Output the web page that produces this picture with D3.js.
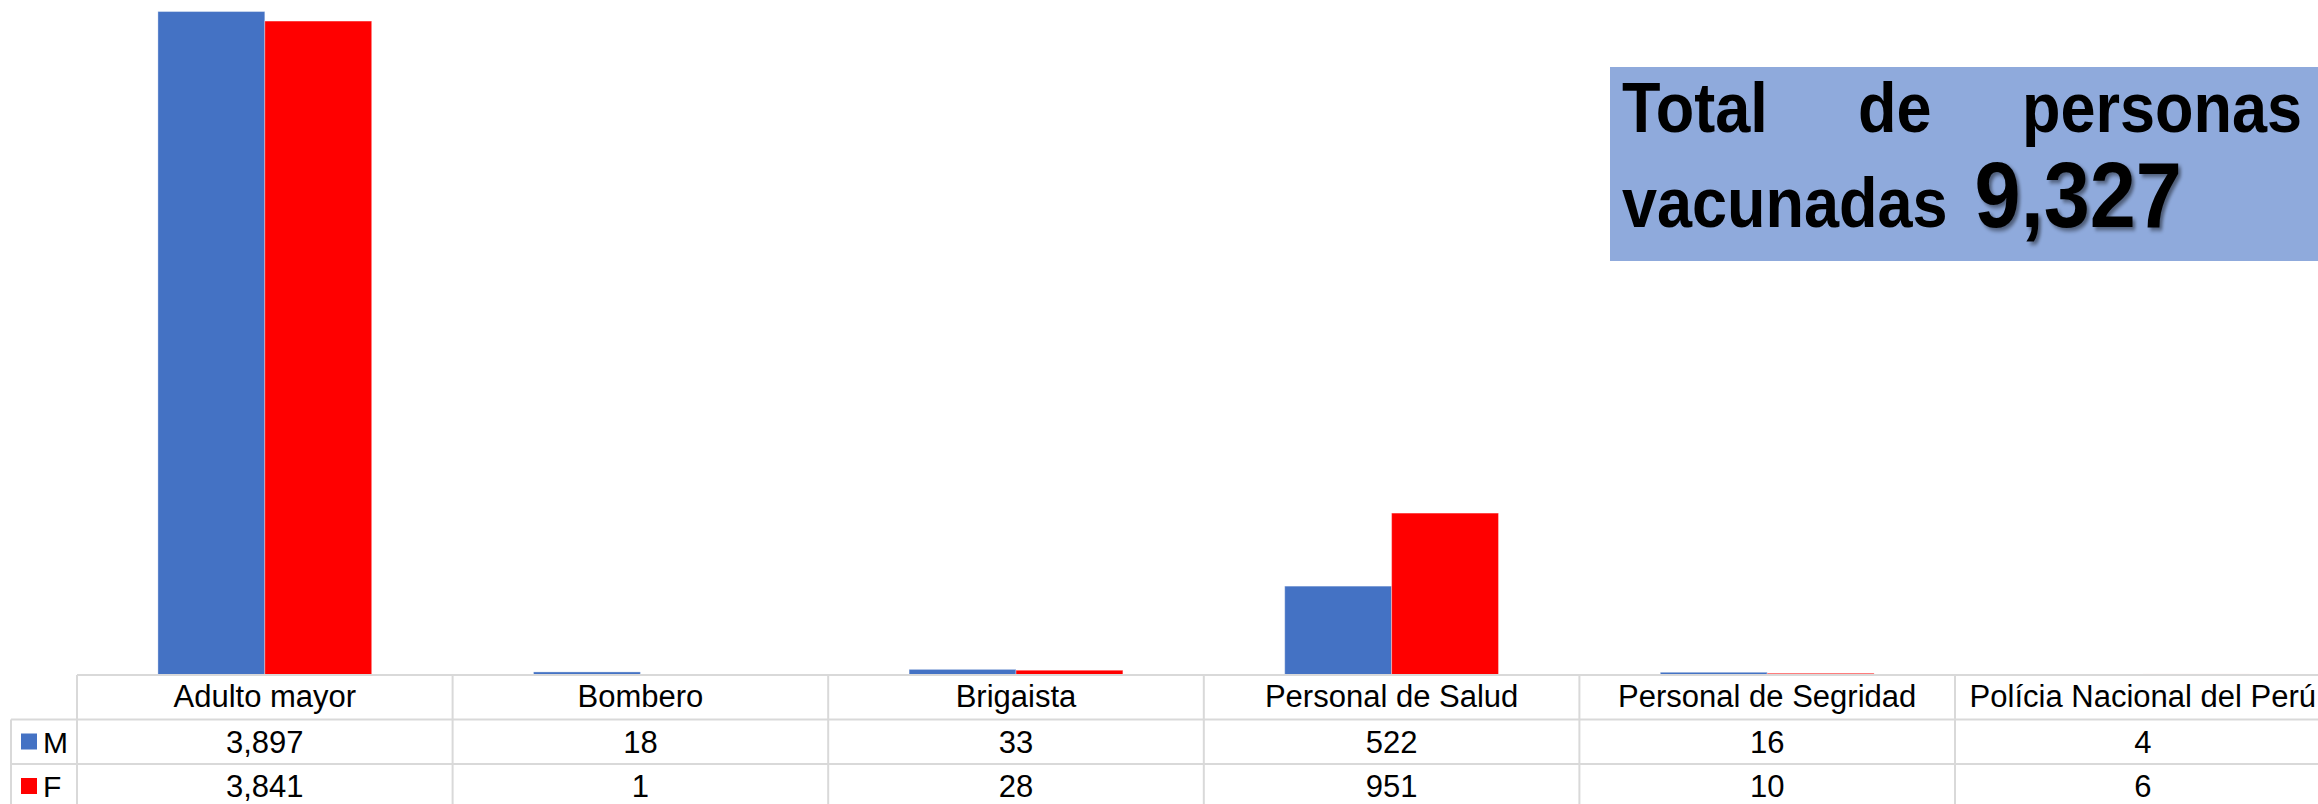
<!DOCTYPE html>
<html>
<head>
<meta charset="utf-8">
<script src="https://cdn.jsdelivr.net/npm/d3@7"></script>
<style>
  body { margin: 0; background: #fff; }
  svg { display: block; font-family: "Liberation Sans", Arial, sans-serif; }
</style>
</head>
<body>
<div id="wrapper"></div>
<script>
// categories and values per sex
const categories = ["Adulto mayor", "Bombero", "Brigaista", "Personal de Salud", "Personal de Segridad", "Polícia Nacional del Perú"];
const seriesNames = ["M", "F"];
const valuesM = [3897, 18, 33, 522, 16, 4];
const valuesF = [3841, 1, 28, 951, 10, 6];
const titleWords = ["Total", "de", "personas"];
const titleLine2 = "vacunadas";

const colors = { M: "#4472C4", F: "#FF0000" };

function drawChart() {
    const dimensions = {
        width: 2318,
        height: 804,
        tableLeft: 77,
        colWidth: 375.6,
        baseline: 675,
        rowH: 44.5,
    };

    const wrapper = d3.select("#wrapper")
        .append("svg")
        .attr("width", dimensions.width)
        .attr("height", dimensions.height);

    const defs = wrapper.append("defs");
    defs.append("filter")
        .attr("id", "shadow")
        .attr("x", "-10%").attr("y", "-10%")
        .attr("width", "130%").attr("height", "130%")
        .append("feDropShadow")
        .attr("dx", 3).attr("dy", 3)
        .attr("stdDeviation", 2)
        .attr("flood-color", "#000")
        .attr("flood-opacity", 0.45);

    // scales
    const xScale = d3.scaleBand()
        .domain(categories)
        .range([dimensions.tableLeft, dimensions.tableLeft + categories.length * dimensions.colWidth])
        .paddingInner(0)
        .paddingOuter(0);

    const xInner = d3.scaleBand()
        .domain(seriesNames)
        .range([0, xScale.bandwidth()])
        .paddingInner(0)
        .paddingOuter(0.757);

    const yScale = d3.scaleLinear()
        .domain([0, 4000])
        .range([dimensions.baseline, -6]);

    const rows = categories.map((c, i) => ({ category: c, M: valuesM[i], F: valuesF[i] }));

    // bars
    const bars = wrapper.append("g");
    const groups = bars.selectAll("g")
        .data(rows)
        .join("g")
        .attr("transform", d => `translate(${xScale(d.category)},0)`);

    groups.selectAll("rect")
        .data(d => seriesNames.map(s => ({ key: s, value: d[s] })))
        .join("rect")
        .attr("x", d => xInner(d.key))
        .attr("y", d => yScale(d.value))
        .attr("width", xInner.bandwidth())
        .attr("height", d => yScale(0) - yScale(d.value))
        .attr("fill", d => colors[d.key])
        .attr("stroke", "#fff")
        .attr("stroke-opacity", 0.35)
        .attr("stroke-width", 1);

    // data table
    const table = wrapper.append("g");
    const gridColor = "#D9D9D9";
    const tableRight = xScale.range()[1];
    const y0 = dimensions.baseline;
    const y1 = y0 + dimensions.rowH;
    const y2 = y1 + dimensions.rowH;
    const y3 = y2 + dimensions.rowH;

    // horizontal lines
    table.append("line")
        .attr("x1", dimensions.tableLeft).attr("x2", tableRight)
        .attr("y1", y0).attr("y2", y0);
    [y1, y2, y3].forEach(y => {
        table.append("line")
            .attr("x1", 11).attr("x2", tableRight)
            .attr("y1", y).attr("y2", y);
    });
    // vertical lines
    table.append("line")
        .attr("x1", 11).attr("x2", 11)
        .attr("y1", y1).attr("y2", y3);
    categories.concat([null]).forEach((c, i) => {
        const x = dimensions.tableLeft + i * xScale.step();
        table.append("line")
            .attr("x1", x).attr("x2", x)
            .attr("y1", y0).attr("y2", y3);
    });
    table.selectAll("line")
        .attr("stroke", gridColor)
        .attr("stroke-width", 2);

    // header labels
    table.selectAll(".cat")
        .data(categories)
        .join("text")
        .attr("class", "cat")
        .attr("x", d => xScale(d) + xScale.bandwidth() / 2)
        .attr("y", y0 + 32)
        .attr("text-anchor", "middle")
        .attr("font-size", 31)
        .attr("fill", "#000")
        .text(d => d);

    // value rows
    const fmt = d3.format(",");
    seriesNames.forEach((s, si) => {
        const vals = s === "M" ? valuesM : valuesF;
        const rowTop = y1 + si * dimensions.rowH;
        table.append("rect")
            .attr("x", 21)
            .attr("y", rowTop + 14)
            .attr("width", 16)
            .attr("height", 16)
            .attr("fill", colors[s]);
        table.append("text")
            .attr("x", 43)
            .attr("y", rowTop + 33)
            .attr("font-size", 30)
            .text(s);
        table.selectAll(`.val${s}`)
            .data(vals)
            .join("text")
            .attr("class", `val${s}`)
            .attr("x", (d, i) => xScale(categories[i]) + xScale.bandwidth() / 2)
            .attr("y", rowTop + 33)
            .attr("text-anchor", "middle")
            .attr("font-size", 31)
            .text(d => fmt(d));
    });

    // title box
    const total = d3.sum(valuesM) + d3.sum(valuesF);
    const box = wrapper.append("g");
    box.append("rect")
        .attr("x", 1610)
        .attr("y", 67)
        .attr("width", 760)
        .attr("height", 194)
        .attr("fill", "#8FAADC");

    const sx = 0.9;
    const line1 = box.append("g")
        .attr("transform", `translate(1622,132) scale(${sx},1)`);
    const words = line1.selectAll("text")
        .data(titleWords)
        .join("text")
        .attr("font-size", 70)
        .attr("font-weight", "bold")
        .attr("fill", "#000")
        .text(d => d);
    // justify words between left edge and right padding
    const lineWidth = (2302 - 1622) / sx;
    const widths = words.nodes().map(n => n.getComputedTextLength());
    const gap = (lineWidth - d3.sum(widths)) / (titleWords.length - 1);
    let cursor = 0;
    words.attr("x", (d, i) => {
        const x = cursor;
        cursor += widths[i] + gap;
        return x;
    });

    const line2 = box.append("g")
        .attr("transform", `translate(1622,227) scale(${sx},1)`);
    const t2 = line2.append("text")
        .attr("font-size", 70)
        .attr("font-weight", "bold")
        .text(titleLine2);
    const w2 = t2.node().getComputedTextLength();
    line2.append("text")
        .attr("x", w2 + 30)
        .attr("font-size", 92)
        .attr("font-weight", "bold")
        .attr("filter", "url(#shadow)")
        .text(fmt(total));
}

drawChart();
</script>
</body>
</html>
